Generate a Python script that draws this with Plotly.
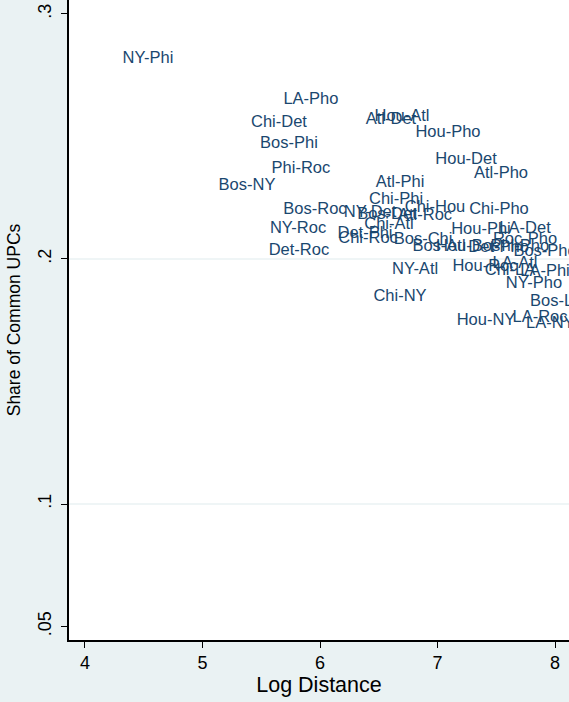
import plotly.graph_objects as go

pairs = [
    "NY-Phi", "LA-Pho", "Chi-Det", "Bos-Phi", "Phi-Roc", "Bos-NY",
    "Atl-Det", "Hou-Atl", "Hou-Pho", "Hou-Det", "Atl-Pho", "Atl-Phi",
    "Chi-Phi", "Chi-Hou", "Chi-Pho", "Bos-Roc", "NY-Det", "Bos-Det",
    "Atl-Roc", "NY-Roc", "Det-Roc", "Det-Phi", "Chi-Roc", "Chi-Atl",
    "Bos-Chi", "Bos-Atl", "Hou-Phi", "LA-Det", "Roc-Pho", "Bos-Pho",
    "Hou-Bos", "Det-Pho", "Phi-Pho", "NY-Atl", "Hou-Roc", "LA-Atl",
    "Chi-LA", "LA-Phi", "NY-Pho", "Chi-NY", "Bos-LA", "Hou-NY",
    "LA-Roc", "LA-NY",
]
log_distance = [
    4.536, 5.923, 5.651, 5.736, 5.838, 5.379,
    6.604, 6.698, 7.089, 7.243, 7.540, 6.681,
    6.647, 6.979, 7.523, 5.957, 6.426, 6.570,
    6.894, 5.813, 5.821, 6.383, 6.409, 6.587,
    6.877, 7.013, 7.370, 7.745, 7.745, 7.915,
    7.260, 7.520, 7.700, 6.809, 7.404, 7.660,
    7.617, 7.915, 7.821, 6.681, 8.017, 7.413,
    7.872, 7.960,
]
share_common = [
    0.2816, 0.2649, 0.2555, 0.2470, 0.2368, 0.2298,
    0.2568, 0.2580, 0.2514, 0.2404, 0.2347, 0.2310,
    0.2241, 0.2208, 0.2200, 0.2200, 0.2188, 0.2180,
    0.2176, 0.2123, 0.2033, 0.2102, 0.2082, 0.2139,
    0.2078, 0.2049, 0.2119, 0.2123, 0.2078, 0.2029,
    0.2049, 0.2045, 0.2049, 0.1955, 0.1968, 0.1980,
    0.1951, 0.1947, 0.1898, 0.1845, 0.1825, 0.1747,
    0.1759, 0.1735,
]

x_ticks = [4, 5, 6, 7, 8]
y_ticks = [0.05, 0.1, 0.2, 0.3]
y_tick_labels = [".05", ".1", ".2", ".3"]
grid_values = [0.1, 0.2]

FONT = "Liberation Sans, Arial, Helvetica, sans-serif"
LABEL_COLOR = "#1a476f"
BG = "#eaf2f3"

fig = go.Figure(
    go.Scatter(
        x=log_distance,
        y=share_common,
        mode="text",
        text=pairs,
        textposition="middle center",
        textfont=dict(family=FONT, size=16.5, color=LABEL_COLOR),
        hoverinfo="skip",
        cliponaxis=True,
        showlegend=False,
    )
)

for g in grid_values:
    fig.add_shape(
        type="line", xref="paper", x0=0, x1=1, yref="y", y0=g, y1=g,
        line=dict(color=BG, width=1.5), layer="below",
    )

fig.update_layout(
    width=569,
    height=702,
    margin=dict(l=69, r=0, t=0, b=62),
    paper_bgcolor=BG,
    plot_bgcolor="white",
    font=dict(family=FONT, color="black"),
    xaxis=dict(
        range=[3.864, 8.119],
        tickvals=x_ticks,
        ticks="outside",
        ticklen=6,
        tickwidth=1,
        tickcolor="black",
        showline=True,
        linecolor="black",
        linewidth=1.5,
        showgrid=False,
        zeroline=False,
        tickfont=dict(size=18),
        title=dict(text="Log Distance", font=dict(size=21.5), standoff=0),
    ),
    yaxis=dict(
        range=[0.0445, 0.3057],
        tickvals=y_ticks,
        ticktext=y_tick_labels,
        tickangle=-90,
        ticks="outside",
        ticklen=6,
        tickwidth=1,
        tickcolor="black",
        showline=True,
        linecolor="black",
        linewidth=1.5,
        showgrid=False,
        zeroline=False,
        tickfont=dict(size=18),
        ticklabelstandoff=3,
        title=dict(text="Share of Common UPCs", font=dict(size=17.5), standoff=10),
    ),
)

fig.write_html(
    "out.html",
    config={"displayModeBar": False},
    post_script="document.body.style.margin='0';document.body.style.overflow='hidden';",
)
